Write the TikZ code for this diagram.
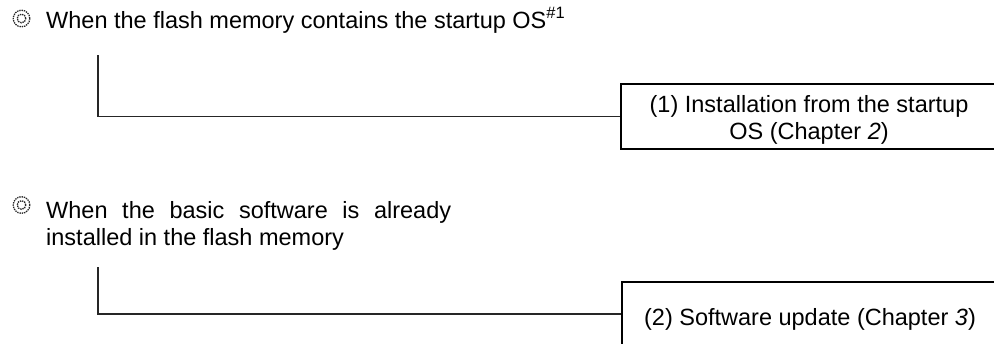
\documentclass[tikz,border=0pt]{standalone}
\usepackage{fontspec}
\setmainfont{Liberation Sans}
\begin{document}
\begin{tikzpicture}[x=1pt,y=-1pt,
  every node/.style={font=\fontsize{23.5}{26.5}\selectfont, inner sep=0pt},
  heading/.style={anchor=base west, align=left},
  stepbox/.style={draw, line width=2pt, minimum width=376pt, minimum height=65pt,
    align=center, text depth=0pt},
  link/.style={draw=black!85, line width=1.5pt},
  bullring/.style={draw=black!85, line width=1.3pt, dash pattern=on 1.4pt off 0.9pt}
]
\useasboundingbox (0,0) rectangle (994,343);
\clip (0,0) rectangle (994,343);

% double-ring bullets
\foreach \cy in {18.5,205} {
  \draw[bullring] (21.5,\cy) circle (8.3pt);
  \draw[bullring] (21.5,\cy) circle (4.3pt);
}

% headings (base anchor sits on the last line)
\node[heading] (title1) at (46,28) {When the flash memory contains the startup OS\textsuperscript{\#1}};
\node[heading] (title2) at (46,245) {\makebox[405pt][s]{When the basic software is already}\\installed in the flash memory};

% target boxes
\node[stepbox, text height=45pt] (box1) at (809,116.5) {(1) Installation from the startup\\OS (Chapter \textit{2})};
\node[stepbox, text height=22pt] (box2) at (810,314) {(2) Software update (Chapter \textit{3})};

% connectors
\coordinate (c1) at (98,55);
\coordinate (c2) at (98,267);
\draw[link] (c1) |- (box1.west);
\draw[link] (c2) |- (box2.west);
\end{tikzpicture}
\end{document}
